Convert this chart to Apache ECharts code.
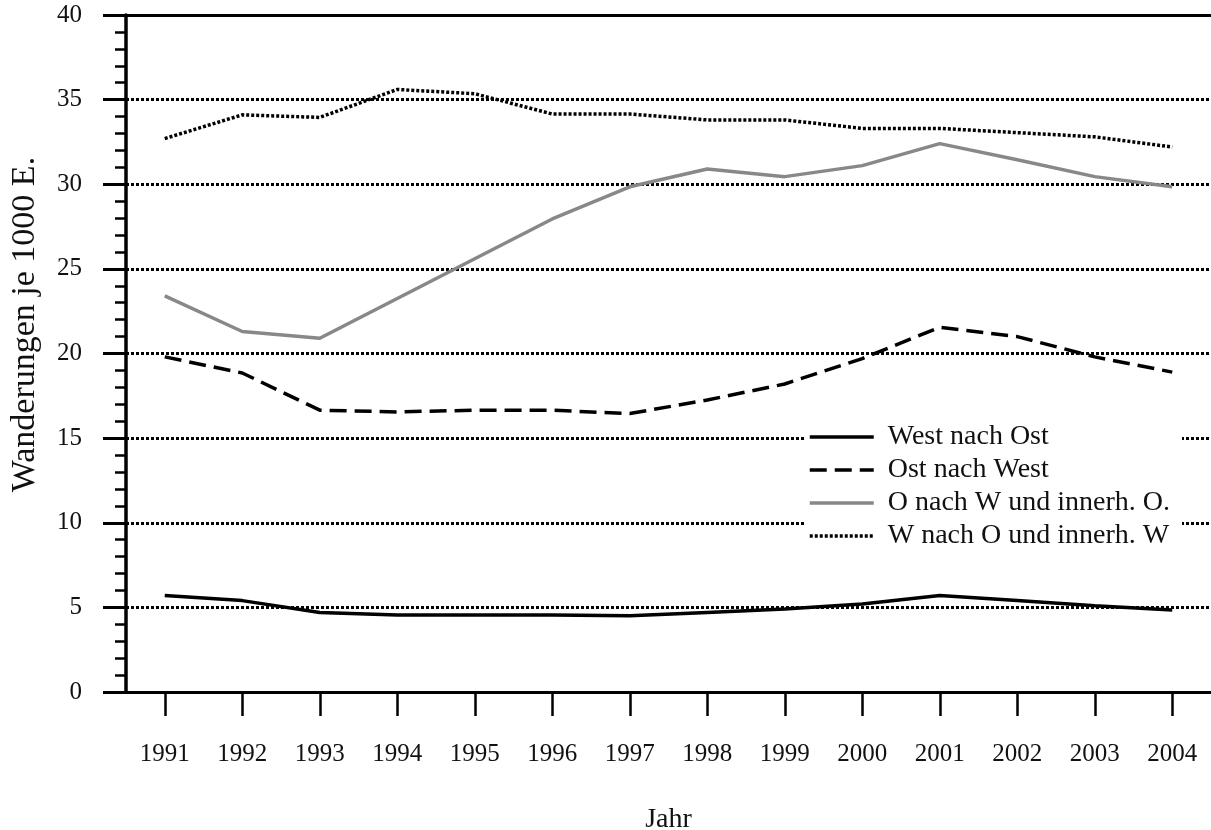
<!DOCTYPE html>
<html>
<head>
<meta charset="utf-8">
<script src="https://cdn.jsdelivr.net/npm/echarts@6/dist/echarts.min.js"></script>
<style>
html,body{margin:0;padding:0;background:#fff;}
#chart{width:1211px;height:830px;}
</style>
</head>
<body>
<div id="chart"></div>
<script>
const years = ['1991','1992','1993','1994','1995','1996','1997','1998','1999','2000','2001','2002','2003','2004'];
const westNachOst = [5.7, 5.4, 4.7, 4.55, 4.55, 4.55, 4.5, 4.7, 4.9, 5.2, 5.7, 5.4, 5.1, 4.85];
const ostNachWest = [19.8, 18.85, 16.65, 16.55, 16.65, 16.65, 16.45, 17.25, 18.2, 19.7, 21.55, 21.0, 19.8, 18.9];
const oNachWInnerhO = [23.4, 21.3, 20.9, 23.25, 25.6, 27.95, 29.85, 30.9, 30.45, 31.1, 32.4, 31.45, 30.45, 29.85];
const wNachOInnerhW = [32.7, 34.1, 33.95, 35.6, 35.35, 34.15, 34.15, 33.8, 33.8, 33.3, 33.3, 33.05, 32.8, 32.2];
const seriesNames = ['West nach Ost', 'Ost nach West', 'O nach W und innerh. O.', 'W nach O und innerh. W'];
const yTitle = 'Wanderungen je 1000 E.';
const xTitle = 'Jahr';

const FONT = '"Liberation Serif", "DejaVu Serif", serif';
const chart = echarts.init(document.getElementById('chart'), null, {renderer: 'canvas'});
chart.setOption({
  backgroundColor: '#fff',
  animation: false,
  textStyle: {fontFamily: FONT, color: '#000'},
  grid: {left: 126, right: 0, top: 15, bottom: 138, containLabel: false, outerBoundsMode: 'none'},
  legend: {
    orient: 'vertical',
    left: 805,
    top: 419,
    backgroundColor: '#fff',
    padding: [4, 12, 4, 3],
    itemWidth: 64,
    itemHeight: 16,
    itemGap: 5,
    itemStyle: {opacity: 0},
    lineStyle: {width: 3.5},
    textStyle: {fontFamily: FONT, fontSize: 28, color: '#111', padding: [0, 0, 0, 9]},
    data: seriesNames
  },
  xAxis: [{
    type: 'category',
    data: years,
    boundaryGap: true,
    name: xTitle,
    nameLocation: 'middle',
    nameGap: 114,
    nameMoveOverlap: false,
    nameTextStyle: {fontFamily: FONT, fontSize: 28, color: '#111'},
    axisLine: {show: true, lineStyle: {color: '#000', width: 3}},
    axisTick: {show: true, alignWithLabel: true, interval: 0, length: 24, lineStyle: {color: '#000', width: 2.5}},
    axisLabel: {interval: 0, margin: 50, fontFamily: FONT, fontSize: 25, color: '#111'},
    splitLine: {show: false}
  }, {
    type: 'category',
    data: years,
    position: 'top',
    boundaryGap: true,
    axisLine: {show: true, lineStyle: {color: '#000', width: 3}},
    axisTick: {show: false},
    axisLabel: {show: false},
    splitLine: {show: false}
  }],
  yAxis: {
    type: 'value',
    min: 0,
    max: 40,
    interval: 5,
    name: yTitle,
    nameLocation: 'middle',
    nameGap: 84,
    nameRotate: 90,
    nameMoveOverlap: false,
    nameTextStyle: {fontFamily: FONT, fontSize: 34, color: '#111', padding: [0, 0, 0, 58]},
    axisLine: {show: true, lineStyle: {color: '#000', width: 3.5}},
    axisTick: {show: true, length: 23, lineStyle: {color: '#000', width: 3}},
    minorTick: {show: true, splitNumber: 5, length: 11, lineStyle: {color: '#000', width: 2.5}},
    axisLabel: {margin: 44, fontFamily: FONT, fontSize: 25, color: '#111'},
    splitLine: {show: true, lineStyle: {color: '#000', width: 3, type: [3, 2]}}
  },
  series: [{
    name: seriesNames[0],
    type: 'line',
    data: westNachOst,
    symbol: 'none',
    lineStyle: {color: '#000', width: 3.5},
    itemStyle: {color: '#000'}
  }, {
    name: seriesNames[1],
    type: 'line',
    data: ostNachWest,
    symbol: 'none',
    lineStyle: {color: '#000', width: 3.5, type: [17, 8]},
    itemStyle: {color: '#000'}
  }, {
    name: seriesNames[2],
    type: 'line',
    data: oNachWInnerhO,
    symbol: 'none',
    lineStyle: {color: '#888', width: 3.5},
    itemStyle: {color: '#888'}
  }, {
    name: seriesNames[3],
    type: 'line',
    data: wNachOInnerhW,
    symbol: 'none',
    lineStyle: {color: '#000', width: 3.5, type: [3, 2]},
    itemStyle: {color: '#000'}
  }]
});
</script>
</body>
</html>
